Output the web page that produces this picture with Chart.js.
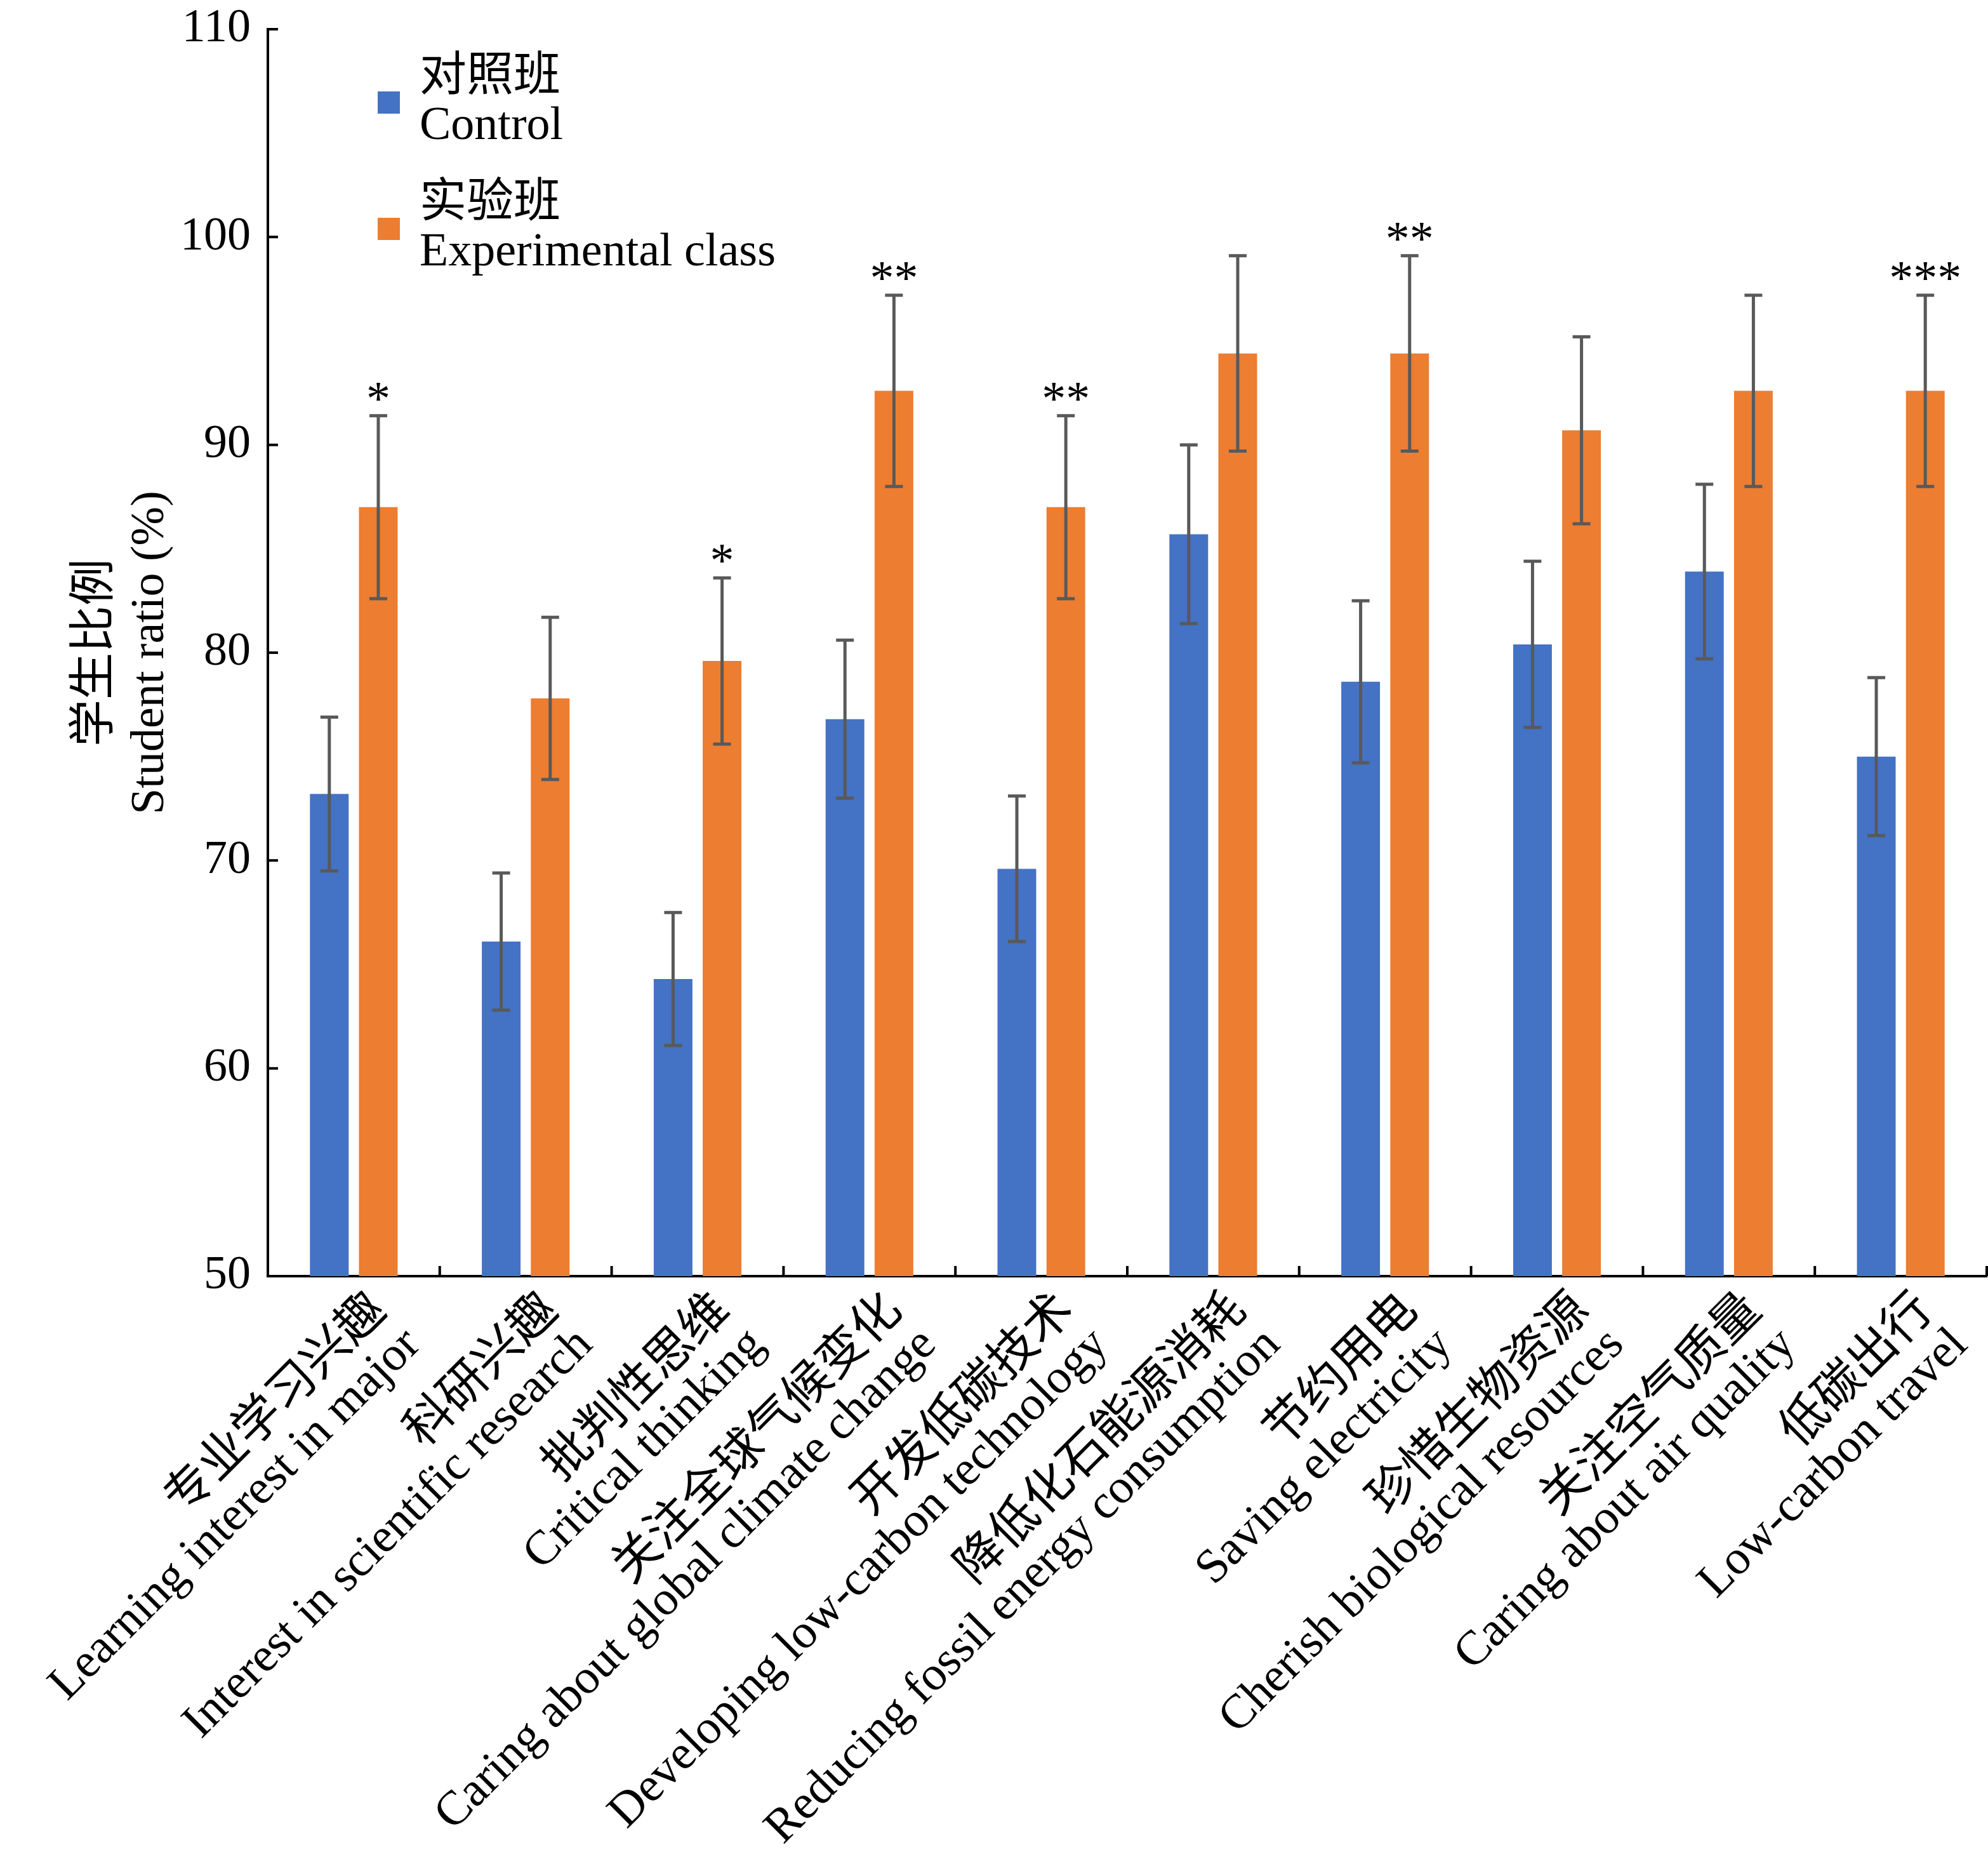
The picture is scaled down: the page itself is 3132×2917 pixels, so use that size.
<!DOCTYPE html>
<html lang="zh">
<head>
  <meta charset="UTF-8">
  <title>学生比例 Student ratio</title>
  <script src="https://cdn.jsdelivr.net/npm/chart.js"></script>
  <style>
    body {
      margin: 0;
      background: #fff;
    }
    canvas {
      display: block;
    }
  </style>
</head>
<body>
  <canvas id="chart" width="3132" height="2917"></canvas>

  <script>
    // Categories (two-line labels: Chinese / English)
    const categoriesZh = ['专业学习兴趣', '科研兴趣', '批判性思维', '关注全球气候变化', '开发低碳技术',
      '降低化石能源消耗', '节约用电', '珍惜生物资源', '关注空气质量', '低碳出行'];
    const categoriesEn = ['Learning interest in major', 'Interest in scientific research', 'Critical thinking',
      'Caring about global climate change', 'Developing low-carbon technology',
      'Reducing fossil energy consumption', 'Saving electricity', 'Cherish biological resources',
      'Caring about air quality', 'Low-carbon travel'];

    // Series names (legend, two lines each)
    const controlName = ['对照班', 'Control'];
    const experimentalName = ['实验班', 'Experimental class'];

    // Values (%)
    const controlValues = [73.2, 66.1, 64.3, 76.8, 69.6, 85.7, 78.6, 80.4, 83.9, 75.0];
    const controlErrors = [3.7, 3.3, 3.2, 3.8, 3.5, 4.3, 3.9, 4.0, 4.2, 3.8];
    const experimentalValues = [87.0, 77.8, 79.6, 92.6, 87.0, 94.4, 94.4, 90.7, 92.6, 92.6];
    const experimentalErrors = [4.4, 3.9, 4.0, 4.6, 4.4, 4.7, 4.7, 4.5, 4.6, 4.6];

    // Significance marks above the experimental bars
    const significance = ['*', '', '*', '**', '**', '', '**', '', '', '***'];

    // Y axis ticks
    const yTickValues = [50, 60, 70, 80, 90, 100, 110];

    const FONT = "'Liberation Serif', 'Noto Sans CJK SC', serif";
    Chart.defaults.color = '#000';
    Chart.defaults.font.family = FONT;

    // error bars + stars
    const errorBars = {
      id: 'errorBars',
      afterDatasetsDraw(chart) {
        const ctx = chart.ctx;
        const y = chart.scales.y;
        ctx.save();
        chart.data.datasets.forEach((ds, i) => {
          const meta = chart.getDatasetMeta(i);
          meta.data.forEach((bar, j) => {
            const v = ds.data[j], e = ds.errors[j];
            const top = y.getPixelForValue(v + e);
            const bot = y.getPixelForValue(v - e);
            ctx.strokeStyle = '#595959';
            ctx.lineWidth = 5;
            ctx.beginPath();
            ctx.moveTo(bar.x, top); ctx.lineTo(bar.x, bot);
            ctx.moveTo(bar.x - 14, top); ctx.lineTo(bar.x + 14, top);
            ctx.moveTo(bar.x - 14, bot); ctx.lineTo(bar.x + 14, bot);
            ctx.stroke();
            if (ds.marks && ds.marks[j]) {
              ctx.fillStyle = '#000';
              ctx.font = '76px ' + FONT;
              ctx.textAlign = 'center';
              ctx.textBaseline = 'alphabetic';
              ctx.fillText(ds.marks[j], bar.x, top - 2);
            }
          });
        });
        ctx.restore();
      }
    };

    // tick marks pointing into the plot
    const innerTicks = {
      id: 'innerTicks',
      afterDatasetsDraw(chart) {
        const {ctx, chartArea: a, scales: {x, y}} = chart;
        ctx.save();
        ctx.strokeStyle = '#000';
        ctx.lineWidth = 4;
        ctx.beginPath();
        y.ticks.forEach(t => {
          const py = y.getPixelForValue(t.value);
          ctx.moveTo(a.left, py);
          ctx.lineTo(a.left + 16, py);
        });
        const step = x.getPixelForValue(1) - x.getPixelForValue(0);
        for (let i = 0; i < categoriesZh.length; i++) {
          const px = x.getPixelForValue(i) + step / 2;
          ctx.moveTo(px, a.bottom);
          ctx.lineTo(px, a.bottom - 16);
        }
        ctx.stroke();
        ctx.restore();
      }
    };

    // legend in the upper left of the plot
    const legendBox = {
      id: 'legendBox',
      afterDraw(chart) {
        const {ctx, chartArea: a} = chart;
        ctx.save();
        ctx.font = '74px ' + FONT;
        ctx.textAlign = 'left';
        ctx.textBaseline = 'middle';
        chart.data.datasets.forEach((ds, i) => {
          const lineY = a.top + 77 + i * 199;
          ctx.fillStyle = ds.backgroundColor;
          ctx.fillRect(a.left + 173, lineY + 21, 35, 35);
          ctx.fillStyle = '#000';
          ds.legendLines.forEach((txt, k) => ctx.fillText(txt, a.left + 239, lineY + k * 77));
        });
        ctx.restore();
      }
    };

    new Chart(document.getElementById('chart'), {
      type: 'bar',
      data: {
        labels: categoriesZh.map((zh, i) => [zh, categoriesEn[i]]),
        datasets: [
          {
            label: controlName.join(' '),
            legendLines: controlName,
            data: controlValues,
            errors: controlErrors,
            backgroundColor: '#4472C4',
            categoryPercentage: 0.57,
            barPercentage: 0.79
          },
          {
            label: experimentalName.join(' '),
            legendLines: experimentalName,
            data: experimentalValues,
            errors: experimentalErrors,
            marks: significance,
            backgroundColor: '#ED7D31',
            categoryPercentage: 0.57,
            barPercentage: 0.79
          }
        ]
      },
      options: {
        responsive: false,
        animation: false,
        devicePixelRatio: 1,
        layout: { padding: { top: 46, right: 2, left: 0, bottom: 0 } },
        plugins: {
          legend: { display: false },
          tooltip: { enabled: false }
        },
        scales: {
          x: {
            grid: { display: false, drawTicks: false },
            border: { display: true, color: '#000', width: 4 },
            ticks: {
              autoSkip: false,
              maxRotation: 45,
              minRotation: 45,
              padding: 16,
              labelOffset: 40,
              font: { size: 76, lineHeight: 1.0 }
            },
            afterFit(scale) {
              scale.height = 907;
              scale.paddingLeft = 0;
              scale.paddingRight = 0;
            }
          },
          y: {
            min: yTickValues[0],
            max: yTickValues[yTickValues.length - 1],
            grid: { display: false, drawTicks: false },
            border: { display: true, color: '#000', width: 4 },
            ticks: {
              stepSize: yTickValues[1] - yTickValues[0],
              padding: 27,
              font: { size: 74 }
            },
            title: {
              display: true,
              text: ['学生比例', 'Student ratio (%)'],
              font: { size: 74, lineHeight: 1.16 },
              padding: { top: 109, bottom: 0 }
            },
            afterFit(scale) {
              scale.width = 422;
              scale.paddingTop = 0;
              scale.paddingBottom = 0;
            }
          }
        }
      },
      plugins: [innerTicks, errorBars, legendBox]
    });
  </script>
</body>
</html>
